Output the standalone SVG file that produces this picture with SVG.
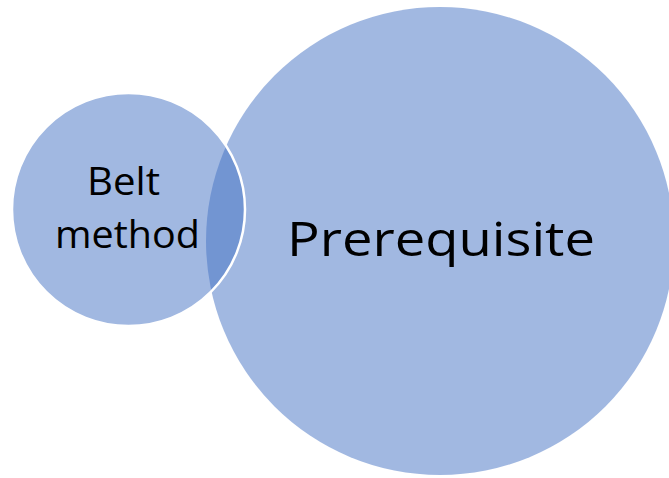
<svg xmlns="http://www.w3.org/2000/svg" width="669" height="478" viewBox="0 0 669 478">
  <style>
    .venn { fill: #4472C4; fill-opacity: 0.5; }
    .edge { stroke: #FFFFFF; stroke-width: 2.5; }
    .label { font-family: "Open Sans", "Noto Sans", "Liberation Sans", sans-serif; fill: #000000; text-anchor: middle; }
  </style>
  <rect width="669" height="478" fill="#FFFFFF"/>
  <g id="prerequisite">
    <circle class="venn" cx="440" cy="241" r="234"/>
    <text class="label" x="441" y="256" font-size="48" textLength="308" lengthAdjust="spacingAndGlyphs">Prerequisite</text>
  </g>
  <g id="belt-method">
    <circle class="venn edge" cx="128.5" cy="209.5" r="116.5"/>
    <text class="label" font-size="38">
      <tspan x="128.5" y="195" textLength="73" lengthAdjust="spacingAndGlyphs">Belt</tspan>
      <tspan x="127.5" y="248" textLength="145" lengthAdjust="spacingAndGlyphs">method</tspan>
    </text>
  </g>
  <g id="connectors"/>
</svg>
